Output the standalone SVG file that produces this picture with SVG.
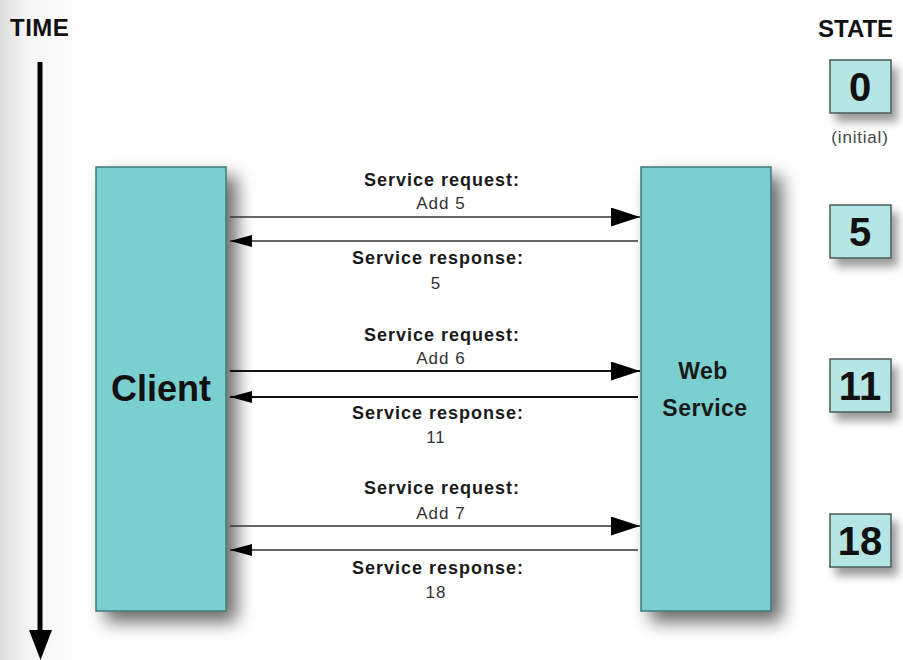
<svg xmlns="http://www.w3.org/2000/svg" width="903" height="660" viewBox="0 0 903 660">
<defs>
<style>
.hdr{font-family:"Liberation Sans",Arial,sans-serif;font-weight:bold;font-size:24px;fill:#111}
.main{fill:#7acfcf;stroke:#3f7878;stroke-width:1.5}
.st{fill:#b5e5e5;stroke:#4a5a5a;stroke-width:1.5}
.num{font-family:"Liberation Sans",Arial,sans-serif;font-weight:bold;font-size:40px;fill:#111;text-anchor:middle}
.lbl{font-family:"Liberation Sans",Arial,sans-serif;font-weight:bold;font-size:18px;letter-spacing:1px;fill:#1a1a1a;text-anchor:middle}
.val{font-family:"Liberation Sans",Arial,sans-serif;font-size:17px;letter-spacing:1px;fill:#333;text-anchor:middle}
.thin{stroke:#333;stroke-width:1.3;fill:none}
.thick{stroke:#111;stroke-width:2.2;fill:none}
</style>
<filter id="sh" x="-40%" y="-20%" width="180%" height="140%">
<feGaussianBlur in="SourceAlpha" stdDeviation="9"/>
<feOffset dx="10" dy="10" result="b"/>
<feComponentTransfer><feFuncA type="linear" slope="0.6"/></feComponentTransfer>
<feMerge><feMergeNode/><feMergeNode in="SourceGraphic"/></feMerge>
</filter>
<filter id="sh2" x="-40%" y="-40%" width="200%" height="200%">
<feGaussianBlur in="SourceAlpha" stdDeviation="5"/>
<feOffset dx="6" dy="8"/>
<feComponentTransfer><feFuncA type="linear" slope="0.4"/></feComponentTransfer>
<feMerge><feMergeNode/><feMergeNode in="SourceGraphic"/></feMerge>
</filter>
<linearGradient id="lg" x1="0" y1="0" x2="1" y2="0">
<stop offset="0" stop-color="#dcdcdc"/>
<stop offset="0.03" stop-color="#f5f5f5"/>
<stop offset="0.1" stop-color="#fff"/>
</linearGradient>
<marker id="ar" markerWidth="29" markerHeight="19" refX="29" refY="9.5" orient="auto" markerUnits="userSpaceOnUse">
<path d="M0,0 L29,9.5 L0,19 Z" fill="#000"/>
</marker>
<marker id="al" markerWidth="22" markerHeight="12" refX="22" refY="6" orient="auto" markerUnits="userSpaceOnUse">
<path d="M0,0 L22,6 L0,12 Z" fill="#000"/>
</marker>
</defs>
<rect width="903" height="660" fill="url(#lg)"/>

<g id="time">
<text class="hdr" x="10" y="36" letter-spacing="0.5">TIME</text>
<line x1="40" y1="62" x2="40" y2="635" stroke="#000" stroke-width="5"/>
<path d="M29,630 L52,630 L40.5,660 Z" fill="#000"/>
</g>

<g id="client">
<rect class="main" x="96" y="167" width="130" height="444" filter="url(#sh)"/>
<text x="161" y="401" font-family="'Liberation Sans',Arial,sans-serif" font-weight="bold" font-size="36" fill="#111" text-anchor="middle">Client</text>
</g>

<g id="webservice">
<rect class="main" x="641" y="167" width="130" height="444" filter="url(#sh)"/>
<text x="703" y="379" font-family="'Liberation Sans',Arial,sans-serif" font-weight="bold" font-size="23" fill="#1a1a1a" text-anchor="middle" letter-spacing="0.5">Web</text>
<text x="705" y="416" font-family="'Liberation Sans',Arial,sans-serif" font-weight="bold" font-size="23" fill="#1a1a1a" text-anchor="middle" letter-spacing="0.5">Service</text>
</g>

<g id="state">
<text class="hdr" x="818" y="37">STATE</text>
<g id="s0"><rect class="st" x="830" y="60" width="61" height="53" filter="url(#sh2)"/><text class="num" x="860" y="101">0</text>
<text x="860" y="143" font-family="'Liberation Sans',Arial,sans-serif" font-size="17" letter-spacing="0.8" fill="#444" text-anchor="middle">(initial)</text></g>
<g id="s5"><rect class="st" x="830" y="205" width="61" height="53" filter="url(#sh2)"/><text class="num" x="860" y="246">5</text></g>
<g id="s11"><rect class="st" x="830" y="359" width="61" height="53" filter="url(#sh2)"/><text class="num" x="860" y="400">11</text></g>
<g id="s18"><rect class="st" x="830" y="514" width="61" height="53" filter="url(#sh2)"/><text class="num" x="860" y="555">18</text></g>
</g>

<g id="connectors">
<line class="thin" x1="230" y1="217" x2="640" y2="217" marker-end="url(#ar)"/>
<line class="thin" x1="638" y1="241" x2="230" y2="241" marker-end="url(#al)"/>
<line class="thick" x1="230" y1="371" x2="640" y2="371" marker-end="url(#ar)"/>
<line class="thick" x1="638" y1="397" x2="230" y2="397" marker-end="url(#al)"/>
<line class="thin" x1="230" y1="526" x2="640" y2="526" marker-end="url(#ar)"/>
<line class="thin" x1="638" y1="550" x2="230" y2="550" marker-end="url(#al)"/>
</g>

<g id="labels">
<text class="lbl" x="442" y="186">Service request:</text>
<text class="val" x="441" y="209">Add 5</text>
<text class="lbl" x="438" y="264">Service response:</text>
<text class="val" x="436" y="289">5</text>
<text class="lbl" x="442" y="341">Service request:</text>
<text class="val" x="441" y="364">Add 6</text>
<text class="lbl" x="438" y="419">Service response:</text>
<text class="val" x="436" y="443">11</text>
<text class="lbl" x="442" y="494">Service request:</text>
<text class="val" x="441" y="519">Add 7</text>
<text class="lbl" x="438" y="574">Service response:</text>
<text class="val" x="436" y="598">18</text>
</g>
</svg>
